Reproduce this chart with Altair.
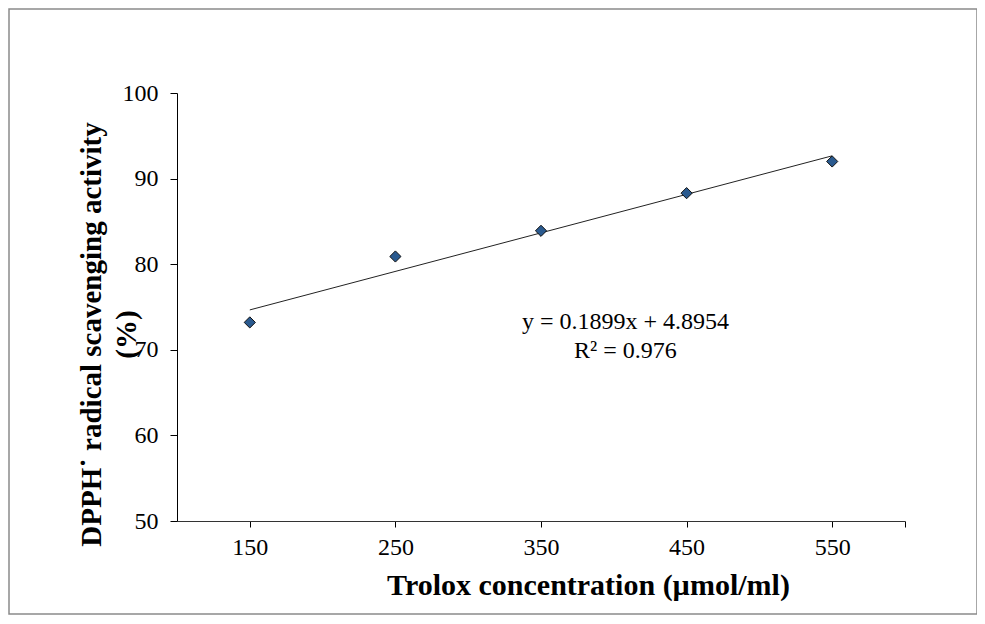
import altair as alt
import pandas as pd

# Data
conc = [150, 250, 350, 450, 550]
activity = [73.2, 80.9, 83.9, 88.3, 92.0]
x_ticks = [150, 250, 350, 450, 550, 600]
y_ticks = [50, 60, 70, 80, 90, 100]
eq_lines = ["y = 0.1899x + 4.8954", "R² = 0.976"]
eq_pos = [408, 73.3]

df = pd.DataFrame({"conc": conc, "activity": activity})
eq_df = pd.DataFrame({"x": [eq_pos[0]], "y": [eq_pos[1]], "t": [eq_lines]})
frame_df = pd.DataFrame({"a": [0]})

FONT = "Liberation Serif"

xscale = alt.Scale(domain=[100, 600], nice=False, zero=False)
yscale = alt.Scale(domain=[50, 100], nice=False, zero=False)

xaxis = alt.Axis(
    values=x_ticks,
    labelExpr="datum.value == 600 ? '' : datum.label",
    title="Trolox concentration (µmol/ml)",
    titleFont=FONT, titleFontSize=30, titleFontWeight="bold", titleColor="black",
    titleX=411, titleY=64, titleBaseline="middle", titleAnchor="start", titleAlign="center",
    labelFont=FONT, labelFontSize=24, labelColor="black", labelPadding=8,
    tickSize=6, tickColor="black", domainColor="#333333", grid=False,
)
yaxis = alt.Axis(
    values=y_ticks,
    title=["DPPH˙ radical scavenging activity", "(%)"],
    titleFont=FONT, titleFontSize=29, titleFontWeight="bold", titleColor="black",
    titleAngle=-90, titleX=-86, titleY=241, titleAlign="center", titleBaseline="middle",
    titleLineHeight=35, titleAnchor="start",
    labelFont=FONT, labelFontSize=24, labelColor="black", labelPadding=12,
    tickSize=7, tickColor="black", domainColor="black", grid=False,
)

base = alt.Chart(df)

trend = base.transform_regression(
    "conc", "activity", extent=[150, 550]
).mark_line(color="#222222", strokeWidth=1).encode(
    x=alt.X("conc:Q", scale=xscale, axis=xaxis),
    y=alt.Y("activity:Q", scale=yscale, axis=yaxis),
)

points = base.mark_point(
    shape="diamond", filled=True, size=125, fill="#2A5A8F", stroke="#111111", strokeWidth=1, opacity=1
).encode(
    x=alt.X("conc:Q", scale=xscale),
    y=alt.Y("activity:Q", scale=yscale),
)

eq = alt.Chart(eq_df).mark_text(
    font=FONT, fontSize=24, color="black", align="center", baseline="middle", lineHeight=29
).encode(
    x=alt.X("x:Q", scale=xscale),
    y=alt.Y("y:Q", scale=yscale),
    text="t",
)

frame = alt.Chart(frame_df).mark_rect(
    fill="transparent", stroke="#8a8a8a", strokeWidth=1.5
).encode(
    x=alt.value(-168), x2=alt.value(800), y=alt.value(-84), y2=alt.value(521)
)

chart = alt.layer(frame, trend, points, eq).properties(
    width=728, height=428,
    autosize=alt.AutoSizeParams(type="none"),
    padding={"left": 169, "top": 85, "right": 72, "bottom": 95},
    background="white",
).configure_view(stroke=None)

chart.save("out.html", embed_options={"renderer": "svg", "actions": False})
